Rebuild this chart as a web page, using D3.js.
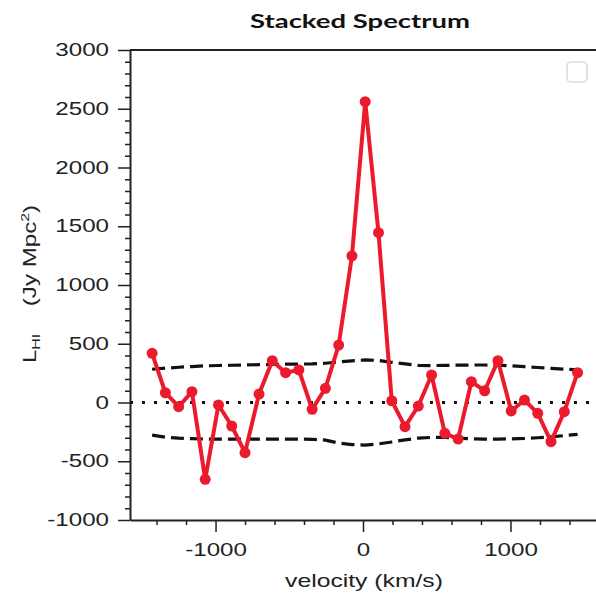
<!DOCTYPE html>
<html>
<head>
<meta charset="utf-8">
<script src="https://cdn.jsdelivr.net/npm/d3@7"></script>
<style>
  html, body { margin: 0; padding: 0; background: #fff; }
  svg { display: block; }
</style>
</head>
<body>
<div class="chartContainer"></div>
<script>
// Channel velocities of the stacked spectrum (km/s)
const velocity = [-1430, -1340, -1250, -1160, -1070, -980, -890, -800, -705, -615, -525,
  -435, -345, -255, -165, -75, 15, 105, 195, 285, 375, 465, 555, 645, 735, 825, 915,
  1005, 1095, 1185, 1275, 1365, 1455];

// Stacked HI luminosity per channel (Jy Mpc^2)
const lumHI = [419, 83, -36, 92, -654, -21, -200, -427, 72, 356, 254, 277, -58, 121,
  489, 1247, 2560, 1445, 15, -206, -30, 234, -262, -311, 177, 100, 356, -72, 21, -92,
  -333, -78, 254];

// Noise envelope (dashed lines)
const upperNoise = [283, 292, 300, 306, 312, 315, 317, 319, 322, 324, 326, 327, 329, 334,
  345, 355, 362, 358, 342, 328, 316, 314, 316, 318, 319, 319, 318, 312, 305, 298, 291,
  284, 277];
const lowerNoise = [-277, -295, -303, -308, -311, -311, -311, -311, -311, -311, -311, -311,
  -313, -320, -345, -358, -362, -352, -336, -318, -303, -297, -297, -304, -309, -311, -311,
  -309, -306, -300, -292, -282, -271];

const xTicks = [-1000, 0, 1000];
const xMinor = [-1400, -1200, -800, -600, -400, -200, 200, 400, 600, 800, 1200, 1400];
const yTicks = [-1000, -500, 0, 500, 1000, 1500, 2000, 2500, 3000];
const yMinor = d3.range(-1000, 3001, 100).filter(v => v % 500 !== 0);

const margin = { top: 50, right: 0, bottom: 75, left: 130 };
const width = 596 - margin.left - margin.right;
const height = 595 - margin.top - margin.bottom;

const red = '#eb1a2d';
const ink = '#222';
const font = '"Liberation Sans", Arial, Helvetica, sans-serif';
const stretch = 1.38; // the original text is set wide

const xScale = d3.scaleLinear().domain([-1580, 1580]).range([0, width]);
const yScale = d3.scaleLinear().domain([-1000, 3000]).range([height, 0]);

const root = d3.select('div.chartContainer').append('svg')
  .attr('width', 596)
  .attr('height', 595)
  .style('background', '#fff');

const svg = root.append('g')
  .attr('transform', 'translate(' + margin.left + ',' + margin.top + ')');

// widen axis labels the same way as the reference
function widen(sel) {
  sel.each(function () {
    const t = d3.select(this);
    const x = parseFloat(t.attr('x')) || 0;
    t.attr('x', x / stretch).attr('transform', 'scale(' + stretch + ',1)');
  });
}

// minor ticks first, major axes on top
svg.append('g')
  .attr('transform', 'translate(0,' + height + ')')
  .call(d3.axisBottom(xScale).tickValues(xMinor).tickSize(5).tickSizeOuter(0).tickFormat(''))
  .call(g => g.select('.domain').remove())
  .selectAll('line').attr('stroke', ink).attr('stroke-width', 1.5);

svg.append('g')
  .call(d3.axisLeft(yScale).tickValues(yMinor).tickSize(5).tickSizeOuter(0).tickFormat(''))
  .call(g => g.select('.domain').remove())
  .selectAll('line').attr('stroke', ink).attr('stroke-width', 1.5);

const xAxis = svg.append('g')
  .attr('transform', 'translate(0,' + height + ')')
  .call(d3.axisBottom(xScale).tickValues(xTicks).tickSize(12).tickPadding(12)
    .tickSizeOuter(0).tickFormat(d => String(d)));

const yAxis = svg.append('g')
  .call(d3.axisLeft(yScale).tickValues(yTicks).tickSize(12).tickPadding(9)
    .tickSizeOuter(0).tickFormat(d => String(d)));

[xAxis, yAxis].forEach(ax => {
  ax.attr('font-family', font).attr('font-size', 17.5);
  ax.select('.domain').attr('stroke', ink).attr('stroke-width', 2);
  ax.selectAll('line').attr('stroke', ink).attr('stroke-width', 1.5);
  ax.selectAll('text').attr('fill', '#222');
  widen(ax.selectAll('text'));
});

// top frame line
svg.append('line')
  .attr('x1', 0).attr('x2', width)
  .attr('y1', yScale(3000)).attr('y2', yScale(3000))
  .attr('stroke', ink).attr('stroke-width', 2);

// zero line (dotted)
svg.append('line')
  .attr('x1', 0).attr('x2', width)
  .attr('y1', yScale(0)).attr('y2', yScale(0))
  .attr('stroke', '#111').attr('stroke-width', 3)
  .attr('stroke-dasharray', '3,9');

// noise envelope
const envLine = d3.line()
  .x((d, i) => xScale(velocity[i]))
  .y(d => yScale(d));

[upperNoise, lowerNoise].forEach(arr => {
  svg.append('path')
    .datum(arr)
    .attr('fill', 'none')
    .attr('stroke', '#111')
    .attr('stroke-width', 3.2)
    .attr('stroke-dasharray', '13,6')
    .attr('d', envLine);
});

// spectrum
const specLine = d3.line()
  .x((d, i) => xScale(velocity[i]))
  .y(d => yScale(d));

svg.append('path')
  .datum(lumHI)
  .attr('fill', 'none')
  .attr('stroke', red)
  .attr('stroke-width', 4)
  .attr('stroke-linejoin', 'round')
  .attr('d', specLine);

svg.selectAll('circle.pt')
  .data(lumHI)
  .enter().append('circle')
  .attr('class', 'pt')
  .attr('cx', (d, i) => xScale(velocity[i]))
  .attr('cy', d => yScale(d))
  .attr('r', 5.5)
  .attr('fill', red);

// empty legend box
svg.append('rect')
  .attr('x', width - 29).attr('y', 12)
  .attr('width', 20).attr('height', 20)
  .attr('rx', 4)
  .attr('fill', 'none')
  .attr('stroke', '#dcdcdc')
  .attr('stroke-width', 1.6);

// title
const title = root.append('text')
  .attr('text-anchor', 'middle')
  .attr('font-family', 'Lato, "Liberation Sans", sans-serif')
  .attr('font-weight', 'bold')
  .attr('font-size', 18.5)
  .attr('fill', '#111')
  .text('Stacked Spectrum');
const tw = title.node().getComputedTextLength();
title.attr('transform', 'translate(360,28) scale(' + (220 / tw) + ',1)');

// x label
const xLab = root.append('text')
  .attr('text-anchor', 'middle')
  .attr('font-family', font)
  .attr('font-size', 18)
  .attr('fill', '#222')
  .text('velocity (km/s)');
const xw = xLab.node().getComputedTextLength();
xLab.attr('transform', 'translate(364,587) scale(' + (158 / xw) + ',1)');

// y label with sub- and superscript
const yLab = root.append('text')
  .attr('text-anchor', 'middle')
  .attr('font-family', font)
  .attr('font-size', 17.5)
  .attr('fill', '#222')
  .attr('transform', 'translate(36,284) rotate(-90) scale(' + stretch + ',1)');
yLab.append('tspan').text('L');
yLab.append('tspan').attr('font-size', 11.5).attr('dy', 4).text('HI');
yLab.append('tspan').attr('dx', 20).attr('dy', -4).text('(Jy Mpc');
yLab.append('tspan').attr('font-size', 11.5).attr('dy', -7).text('2');
yLab.append('tspan').attr('dy', 7).text(')');
</script>
</body>
</html>
